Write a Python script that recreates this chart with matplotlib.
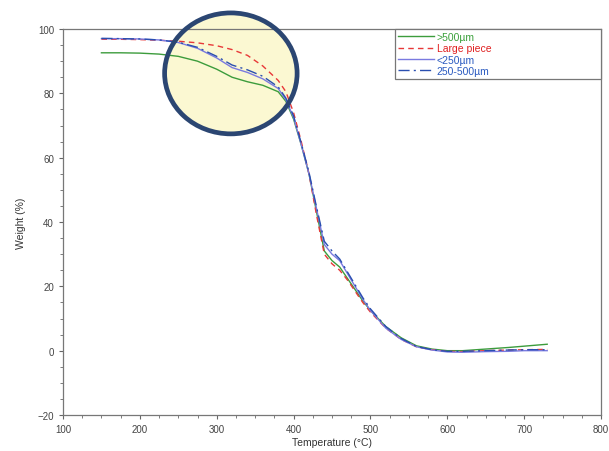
import matplotlib
matplotlib.use("Agg")
import matplotlib.pyplot as plt
from matplotlib.patches import Ellipse, Rectangle
from matplotlib.ticker import MultipleLocator

plt.rcParams['font.family'] = ['Liberation Sans', 'DejaVu Sans']

temperature = [150, 175, 200, 225, 250, 275, 300, 320, 340, 360, 380, 390, 400, 410,
               420, 430, 440, 450, 460, 470, 480, 490, 500, 520, 540, 560, 580, 600,
               620, 650, 680, 700, 730]

w_gt500 = [92.6, 92.6, 92.5, 92.2, 91.5, 90.0, 87.5, 85.0, 83.6, 82.5, 80.5, 77.5, 72.0, 64.0,
           55.0, 43.0, 31.0, 28.0, 26.0, 22.5, 19.0, 15.5, 12.5, 7.5, 4.0, 1.5, 0.5, 0.0,
           0.0, 0.5, 1.0, 1.4, 2.0]
w_large = [96.8, 96.8, 96.7, 96.5, 96.2, 95.7, 94.8, 93.6, 91.8, 88.5, 84.0, 80.5, 74.0, 65.0,
           55.0, 42.0, 30.0, 27.0, 25.0, 22.0, 18.5, 15.0, 12.0, 7.0, 3.5, 1.2, 0.3, -0.2,
           -0.3, 0.0, 0.2, 0.3, 0.4]
w_lt250 = [97.0, 97.0, 96.9, 96.6, 95.8, 94.0, 91.0, 88.0, 86.5, 84.5, 81.5, 78.0, 72.5, 64.0,
           55.0, 44.0, 33.0, 30.0, 28.0, 24.0, 20.0, 16.0, 12.5, 7.0, 3.5, 1.2, 0.2, -0.4,
           -0.5, -0.3, -0.2, 0.0, 0.0]
w_250_500 = [97.1, 97.0, 96.9, 96.6, 95.9, 94.3, 91.5, 88.8, 87.3, 85.3, 82.0, 78.5, 73.0, 64.5,
             55.5, 44.5, 34.0, 31.0, 28.5, 24.5, 20.5, 16.5, 13.0, 7.5, 3.8, 1.3, 0.3, -0.2,
             -0.2, 0.0, 0.2, 0.3, 0.3]

labels = [">500µm", "Large piece", "<250µm", "250-500µm"]
colors = ["#3c9c3c", "#e83838", "#7a7ae0", "#2a4fb0"]
styles = ["-", (0, (4, 3)), "-", (0, (8, 3, 1.5, 3))]
series = [w_gt500, w_large, w_lt250, w_250_500]
text_colors = ["#3aa03a", "#e02020", "#2a5ac0", "#2a5ac0"]

W, H = 609, 452
fig = plt.figure(figsize=(W / 100, H / 100), dpi=100)
ax = fig.add_axes([63 / W, 1 - 416 / H, 538 / W, 386 / H])

# highlight ellipse (fill under lines, edge above)
ell_fill = Ellipse((318.4, 86.2), 172.4, 37.6, facecolor="#fbf8d2", edgecolor="none",
                   zorder=1, clip_on=False)
ax.add_patch(ell_fill)

for vals, lab, c, ls in zip(series, labels, colors, styles):
    ax.plot(temperature, vals, color=c, linestyle=ls, linewidth=1.0, label=lab, zorder=3)

ell_edge = Ellipse((318.4, 86.2), 172.4, 37.6, facecolor="none", edgecolor="#2b4672",
                   linewidth=3.4, zorder=4, clip_on=False)
ax.add_patch(ell_edge)

ax.set_xlim(100, 800)
ax.set_ylim(-20, 100)
ax.xaxis.set_major_locator(MultipleLocator(100))
ax.xaxis.set_minor_locator(MultipleLocator(25))
ax.yaxis.set_major_locator(MultipleLocator(20))
ax.yaxis.set_minor_locator(MultipleLocator(5))
ax.tick_params(which="both", direction="out", colors="#666666", labelcolor="#444444",
               labelsize=7)
ax.tick_params(which="major", length=3)
ax.tick_params(which="minor", length=2)
for s in ax.spines.values():
    s.set_color("#777777")
    s.set_linewidth(0.9)

ax.set_xlabel("Temperature (°C)", fontsize=7.5, color="#333333", labelpad=2)
ax.set_ylabel("Weight (%)", fontsize=7.5, color="#333333", labelpad=8)

# legend box frame (wide, as in reference)
frame = Rectangle((395 / W, 1 - 80 / H), 206 / W, 50 / H, transform=fig.transFigure,
                  facecolor="white", edgecolor="#777777", linewidth=0.9, zorder=5,
                  clip_on=False)
ax.add_patch(frame)

leg = ax.legend(loc="upper left", bbox_to_anchor=(396 / W, 1 - 31 / H),
                bbox_transform=fig.transFigure, fontsize=7.5, frameon=False,
                handlelength=3.4, handletextpad=0.3, borderpad=0.2, labelspacing=0.12,
                borderaxespad=0.0)
for t, tc in zip(leg.get_texts(), text_colors):
    t.set_color(tc)
leg.set_zorder(6)

fig.savefig("out.png", dpi=100)
